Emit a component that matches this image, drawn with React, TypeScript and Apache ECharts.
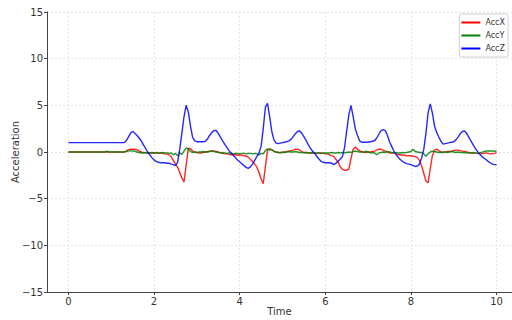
import React, { useEffect, useRef } from "react";
import * as echarts from "echarts";

// Sampling step of the recording (seconds); values below are read every 0.05 s from 0 to 10
const sampleStep = 0.05;

const seriesNames = ["AccX", "AccY", "AccZ"];
const xTicks = [0, 2, 4, 6, 8, 10];

// AccX (red), rows of 10 samples = 0.5 s each
const accX = [
  0, 0, 0, 0, 0, 0, 0, 0, 0, 0,
  0, 0, 0, 0, 0, 0, 0, 0, 0, 0,
  0, 0, 0, 0, 0, 0, 0, 0.1, 0.25, 0.3,
  0.3, 0.3, 0.25, 0.1, 0.0, -0.05, -0.1, -0.05, -0.1, -0.15,
  -0.1, -0.1, -0.15, -0.1, -0.15, -0.2, -0.2, -0.3, -0.5, -0.9,
  -1.3, -1.6, -2.2, -2.8, -3.2, -1.4, 0.4, 0.35, 0.1, 0.0,
  -0.05, -0.1, -0.1, -0.05, 0.0, 0.05, 0.1, 0.15, 0.1, 0.05,
  0.0, -0.1, -0.15, -0.2, -0.2, -0.25, -0.3, -0.3, -0.3, -0.35,
  -0.3, -0.35, -0.4, -0.45, -0.55, -0.8, -1.0, -1.3, -1.6, -2.2,
  -2.9, -3.4, -1.6, 0.2, 0.35, 0.25, 0.1, 0.0, -0.05, -0.1,
  -0.05, 0.0, 0.05, 0.1, 0.15, 0.2, 0.3, 0.3, 0.2, 0.05,
  -0.05, -0.05, -0.1, -0.1, -0.1, -0.15, -0.15, -0.1, -0.1, -0.15,
  -0.2, -0.2, -0.3, -0.4, -0.5, -0.8, -1.1, -1.6, -1.85, -1.95,
  -1.95, -1.8, -0.7, 0.3, 0.55, 0.3, 0.15, 0.05, 0.0, -0.05,
  0.0, 0.0, 0.05, 0.1, 0.2, 0.3, 0.3, 0.2, 0.1, 0.0,
  -0.1, -0.1, -0.1, -0.2, -0.3, -0.3, -0.35, -0.35, -0.4, -0.4,
  -0.4, -0.45, -0.5, -0.6, -0.9, -1.5, -2.3, -3.1, -3.3, -1.8,
  -0.4, 0.2, 0.3, 0.15, 0.0, -0.05, 0.0, 0.05, 0.05, 0.1,
  0.15, 0.2, 0.2, 0.15, 0.1, 0.05, 0.0, -0.05, -0.1, -0.15,
  -0.1, -0.15, -0.2, -0.2, -0.15, -0.1, -0.15, -0.2, -0.2, -0.15,
  -0.1,
];

// AccY (green)
const accY = [
  0, 0, 0, 0, 0, 0, 0, 0, 0, 0,
  0, 0, 0, 0, 0, 0, 0, 0, 0.1, 0,
  0, 0, 0, 0, 0, 0, 0, 0.05, 0.1, 0.15,
  0.1, 0.1, 0.0, -0.05, -0.1, -0.1, -0.05, -0.1, -0.1, -0.05,
  -0.1, -0.05, -0.1, -0.1, -0.05, -0.1, -0.1, -0.15, -0.1, -0.3,
  -0.15, -0.4, -0.1, -0.25, 0.1, 0.45, 0.3, 0.05, -0.05, 0.0,
  -0.05, 0.0, 0.0, 0.05, 0.0, 0.0, 0.05, 0.1, 0.05, 0.0,
  -0.05, -0.1, -0.05, -0.1, -0.15, -0.1, -0.15, -0.2, -0.15, -0.15,
  -0.2, -0.15, -0.15, -0.2, -0.15, -0.15, -0.2, -0.15, -0.2, -0.3,
  -0.15, -0.2, 0.15, 0.35, 0.2, 0.25, 0.05, 0.0, -0.05, -0.05,
  0.0, -0.05, 0.0, 0.05, 0.0, 0.0, 0.05, 0.0, -0.05, -0.05,
  -0.1, -0.05, -0.1, -0.1, -0.05, -0.1, -0.1, -0.1, -0.15, -0.1,
  -0.1, -0.1, -0.1, -0.05, -0.1, -0.1, -0.05, -0.1, -0.05, -0.1,
  -0.05, 0.0, -0.05, 0.05, 0.1, 0.05, 0.0, 0.0, -0.05, 0.1,
  0.0, -0.1, -0.05, -0.1, -0.3, -0.1, -0.05, 0.0, -0.05, 0.05,
  0.0, -0.05, -0.1, -0.05, -0.1, -0.1, -0.05, -0.1, -0.05, 0.0,
  0.05, 0.3, 0.05, 0.0, -0.05, -0.05, -0.2, -0.45, -0.2, 0.0,
  0.1, 0.05, 0.0, -0.05, -0.05, 0.0, 0.0, -0.05, 0.0, 0.05,
  0.0, -0.05, 0.0, -0.05, -0.05, -0.1, -0.05, -0.1, -0.1, -0.05,
  -0.1, -0.15, -0.1, -0.05, 0.05, 0.1, 0.1, 0.1, 0.1, 0.1,
  0.05,
];

// AccZ (blue)
const accZ = [
  1, 1, 1, 1, 1, 1, 1, 1, 1, 1,
  1, 1, 1, 1, 1, 1, 1, 1, 1, 1,
  1, 1, 1, 1, 1, 1, 1, 1.2, 1.6, 2.0,
  2.2, 2.0, 1.8, 1.5, 1.2, 0.8, 0.4, 0.0, -0.3, -0.6,
  -0.85, -1.0, -1.1, -1.15, -1.15, -1.15, -1.2, -1.2, -1.3, -1.35,
  -1.45, -1.1, 0.3, 2.0, 3.8, 5.0, 4.3, 2.8, 1.6, 1.2,
  1.1, 1.1, 1.1, 1.1, 1.15, 1.4, 1.8, 2.1, 2.3, 2.3,
  2.0, 1.6, 1.2, 0.85, 0.5, 0.15, -0.1, -0.35, -0.6, -0.85,
  -1.05, -1.25, -1.45, -1.65, -1.75, -1.6, -1.3, -0.9, -0.5, -0.1,
  0.6, 2.5, 4.8, 5.2, 3.8, 2.2, 1.3, 0.95, 0.9, 0.95,
  1.0, 1.05, 1.1, 1.2, 1.35, 1.65, 1.95, 2.2, 2.25, 2.0,
  1.65, 1.25, 0.8, 0.4, 0.1, -0.15, -0.45, -0.75, -1.0, -1.1,
  -1.15, -1.15, -1.15, -1.2, -1.35, -1.2, -1.0, -0.75, -0.5, 0.5,
  2.3, 4.0, 5.0, 3.8, 2.5, 1.8, 1.2, 1.05, 1.05, 1.05,
  1.05, 1.1, 1.15, 1.2, 1.5, 1.9, 2.3, 2.4, 2.3, 1.8,
  1.1, 0.6, 0.1, -0.25, -0.55, -0.8, -1.0, -1.15, -1.25, -1.3,
  -1.35, -1.45, -1.55, -1.5, -1.3, -0.6, 0.3, 2.0, 4.2, 5.15,
  4.2, 2.8, 2.1, 1.6, 1.15, 0.85, 0.9, 0.95, 1.0, 1.05,
  1.1, 1.3, 1.6, 1.95, 2.2, 2.25, 2.0, 1.6, 1.2, 0.8,
  0.4, 0.1, -0.2, -0.45, -0.65, -0.8, -1.0, -1.15, -1.3, -1.35,
  -1.35,
];

const colors = ["#ff0000", "#008000", "#0000ff"];

function pairs(values: number[]) {
  return values.map((v, i) => [Number((i * sampleStep).toFixed(2)), v]);
}

const minus = (v: number) => String(v).replace("-", "\u2212");

export default function App() {
  const ref = useRef<HTMLDivElement>(null);
  useEffect(() => {
    if (!ref.current) return;
    const chart = echarts.init(ref.current, null, { renderer: "svg" });
    const font = "'DejaVu Sans', sans-serif";
    const data = [accX, accY, accZ];
    chart.setOption({
      animation: false,
      backgroundColor: "#ffffff",
      grid: { left: 47, right: 0, top: 12, bottom: 28, containLabel: false, outerBoundsMode: "none" },
      legend: {
        orient: "vertical",
        right: 4,
        top: 14,
        data: seriesNames,
        icon: "rect",
        itemWidth: 19,
        itemHeight: 2,
        itemGap: 2,
        padding: [3, 3, 3, 2],
        backgroundColor: "rgba(255,255,255,0.85)",
        borderColor: "#d0d0d0",
        borderWidth: 1,
        borderRadius: 2,
        textStyle: { fontFamily: font, fontSize: 8, color: "#333", lineHeight: 11 },
      },
      xAxis: {
        type: "value",
        min: -0.5,
        max: 10.36,
        name: "Time",
        nameLocation: "middle",
        nameGap: 14,
        nameMoveOverlap: false,
        nameTextStyle: { fontFamily: font, fontSize: 10, color: "#333" },
        axisLine: { onZero: false, lineStyle: { color: "#444", width: 1 } },
        axisTick: { show: true, length: 3, customValues: xTicks, lineStyle: { color: "#444" } },
        axisLabel: { customValues: xTicks, fontFamily: font, fontSize: 10, color: "#333", margin: 4, formatter: minus },
        splitLine: { show: true, lineStyle: { color: "#dddddd", type: [2, 2], width: 0.8 } },
      },
      yAxis: {
        type: "value",
        min: -15,
        max: 15,
        interval: 5,
        name: "Acceleration",
        nameLocation: "middle",
        nameGap: 27,
        nameMoveOverlap: false,
        nameTextStyle: { fontFamily: font, fontSize: 10, color: "#333" },
        axisLine: { show: true, onZero: false, lineStyle: { color: "#444", width: 1 } },
        axisTick: { show: true, length: 3, lineStyle: { color: "#444" } },
        axisLabel: { fontFamily: font, fontSize: 10, color: "#333", margin: 4, formatter: minus },
        splitLine: { show: true, lineStyle: { color: "#dddddd", type: [2, 2], width: 0.8 } },
      },
      series: seriesNames.map((name, k) => ({
        name,
        type: "line",
        data: pairs(data[k]),
        showSymbol: false,
        symbol: "none",
        color: colors[k],
        lineStyle: { color: colors[k], width: 1.4, opacity: 0.85 },
        z: 2 + k,
      })),
    });
    return () => chart.dispose();
  }, []);
  return (
    <div
      ref={ref}
      style={{ position: "absolute", left: 0, top: 0, width: 512, height: 320 }}
    />
  );
}
